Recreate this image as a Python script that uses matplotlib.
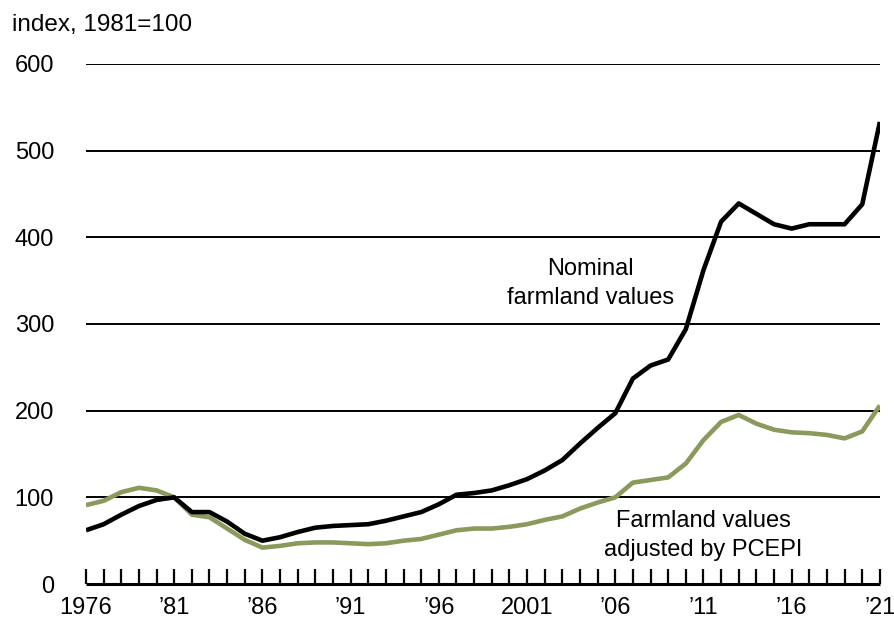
import numpy as np
import matplotlib.pyplot as plt

plt.rcParams['font.family'] = ['Liberation Sans', 'DejaVu Sans']

years = list(range(1976, 2022))
nominal = [62, 69, 80, 90, 97, 100, 83, 83, 72, 58, 50, 54, 60, 65, 67, 68,
           69, 73, 78, 83, 92, 103, 105, 108, 114, 121, 131, 143, 162, 180, 197,
           237, 252, 259, 294, 362, 418, 439, 427, 415, 410, 415, 415, 415, 438, 533]
adjusted = [91, 96, 106, 111, 108, 100, 80, 77, 64, 51, 42, 44, 47, 48, 48, 47,
            46, 47, 50, 52, 57, 62, 64, 64, 66, 69, 74, 78, 87, 94, 100,
            117, 120, 123, 139, 166, 187, 195, 185, 178, 175, 174, 172, 168, 176, 206]
tick_years = [1976, 1981, 1986, 1991, 1996, 2001, 2006, 2011, 2016, 2021]
tick_labels = ['1976', '\u201981', '\u201986', '\u201991', '\u201996', '2001',
               '\u201906', '\u201911', '\u201916', '\u201921']
y_ticks = [0, 100, 200, 300, 400, 500, 600]

fig = plt.figure(figsize=(8.94, 6.2), dpi=100)
ax = fig.add_axes([0.0962, 0.058, 0.888, 0.839])

for v in y_ticks[1:]:
    ax.axhline(v, color='black', lw=1.4, zorder=1)

green = '#8b9a5c'
ax.plot(years, adjusted, color=green, lw=3.3, zorder=3, solid_capstyle='butt')
ax.plot(years, nominal, color='black', lw=3.3, zorder=4, solid_capstyle='butt')

ax.set_xlim(1976, 2021)
ax.set_ylim(0, 600)
for s in ['top', 'right', 'left']:
    ax.spines[s].set_visible(False)
ax.spines['bottom'].set_linewidth(2.2)
ax.spines['bottom'].set_zorder(5)
ax.spines['bottom'].set_capstyle('butt')

ax.set_xticks(years, minor=True)
ax.set_xticks(tick_years)
ax.set_xticklabels(tick_labels, fontsize=17)
ax.tick_params(axis='x', which='both', direction='in', length=11, width=1.6,
               pad=9, colors='black')
ax.set_yticks(y_ticks)
ax.set_yticklabels([str(v) for v in y_ticks], fontsize=17)
ax.tick_params(axis='y', length=0, pad=23)

fig.text(12 / 894, 1 - 25 / 620, 'index, 1981=100', fontsize=17.5, va='center', ha='left')
ax.text(2004.6, 347, 'Nominal\nfarmland values', fontsize=17, ha='center', va='center',
        linespacing=1.4)
ax.text(2011.0, 56, 'Farmland values\nadjusted by PCEPI', fontsize=17, ha='center',
        va='center', linespacing=1.4)

fig.savefig('out.png', dpi=100)
